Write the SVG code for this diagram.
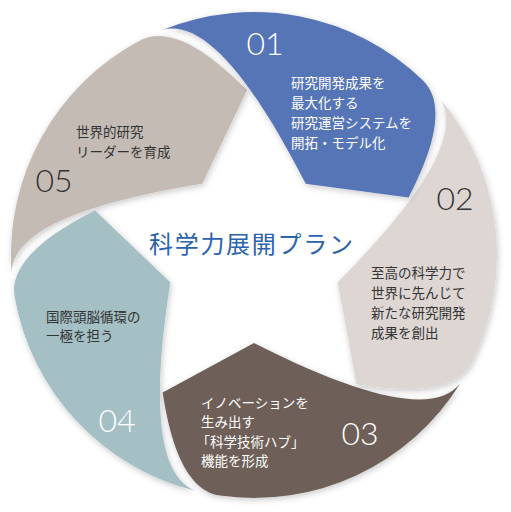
<svg xmlns="http://www.w3.org/2000/svg" width="511" height="512" viewBox="0 0 511 512">
<defs>
<path id="petal" d="M 11.6,272 C 14,235 70,205 202.3,183.8 L 247.1,90.1 C 222,65 175,21.7 139.9,40.5 A 243 243 0 0 0 11.6,272 Z"/>
<filter id="sh" x="-20%" y="-20%" width="140%" height="140%">
<feDropShadow dx="1" dy="2" stdDeviation="3" flood-color="#000" flood-opacity="0.22"/>
</filter>
</defs>
<style>
.jp{font-family:"Noto Sans CJK JP","Noto Sans",sans-serif;font-size:13.5px}
.num{font-family:Lato,"Liberation Sans",sans-serif;font-weight:300;font-size:32px}
.w{fill:#fff}
.d{fill:#333}
.title{font-family:"Noto Sans CJK JP",sans-serif;font-size:24px;letter-spacing:1.7px;fill:#2a62ae}
</style>
<rect width="511" height="512" fill="#fff"/>
<g id="seg05">
<g filter="url(#sh)"><use href="#petal" fill="#c4bbb5"/></g>
<text class="num d" x="35.5" y="192">05</text>
<text class="jp d" x="76" y="137">世界的研究</text>
<text class="jp d" x="76" y="157">リーダーを育成</text>
</g>
<g id="seg04">
<g filter="url(#sh)"><use href="#petal" transform="rotate(288 254 255)" fill="#a4c0c5"/></g>
<text class="num w" x="98.5" y="432">04</text>
<text class="jp d" x="46" y="321.5">国際頭脳循環の</text>
<text class="jp d" x="46" y="341">一極を担う</text>
</g>
<g id="seg03">
<g filter="url(#sh)"><use href="#petal" transform="rotate(216 254 255)" fill="#6e6159"/></g>
<text class="num w" x="341.5" y="445">03</text>
<text class="jp w" x="201" y="407.5">イノベーションを</text>
<text class="jp w" x="201" y="427">生み出す</text>
<text class="jp w" x="196.5" y="446.5">「科学技術ハブ」</text>
<text class="jp w" x="201" y="466">機能を形成</text>
</g>
<g id="seg02">
<g filter="url(#sh)"><use href="#petal" transform="rotate(144 254 255)" fill="#ddd6d3"/></g>
<text class="num d" x="436.5" y="210">02</text>
<text class="jp d" x="371" y="277.5">至高の科学力で</text>
<text class="jp d" x="371" y="297.5">世界に先んじて</text>
<text class="jp d" x="371" y="317.5">新たな研究開発</text>
<text class="jp d" x="371" y="337.5">成果を創出</text>
</g>
<g id="seg01">
<g filter="url(#sh)"><use href="#petal" transform="rotate(72 254 255)" fill="#5775b7"/></g>
<text class="num w" x="246.5" y="55">01</text>
<text class="jp w" x="291" y="87.5">研究開発成果を</text>
<text class="jp w" x="291" y="107.5">最大化する</text>
<text class="jp w" x="291" y="127.5">研究運営システムを</text>
<text class="jp w" x="291" y="147.5">開拓・モデル化</text>
</g>
<g id="center">
<text class="title" x="149" y="252.5">科学力展開プラン</text>
</g>
</svg>
